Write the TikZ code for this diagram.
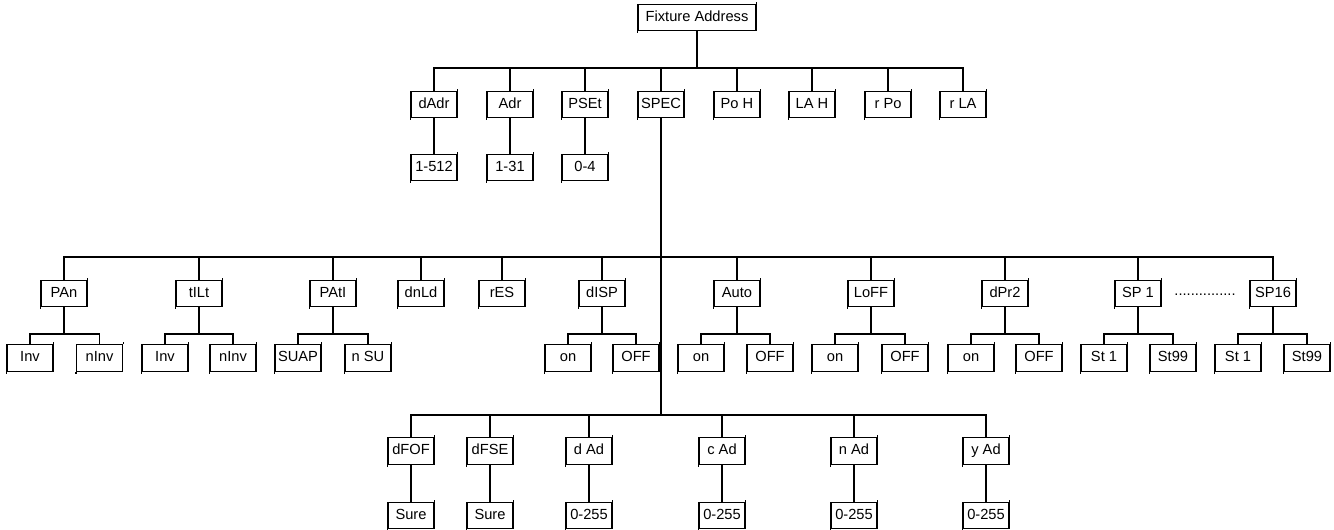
\documentclass[tikz,border=0pt]{standalone}
\usepackage{fontspec}
\setmainfont{Liberation Sans}
\begin{document}
\begin{tikzpicture}[x=0.75pt,y=-0.75pt,line width=0.8pt,
  bx/.style={draw,minimum width=34.5pt,minimum height=20pt,inner sep=1pt,
    text height=8pt,text depth=2.2pt,
    font=\fontsize{11}{13}\selectfont},
  lbl/.style={inner sep=0pt,font=\fontsize{11}{13}\selectfont}]
\useasboundingbox (0,0) rectangle (1334,530);
% root
\node[bx,minimum width=88.5pt] (fa) at (697,17.5) {Fixture Address};
% level 1
\node[bx] (dadr) at (434,104.5) {dAdr};
\node[bx] (adr)  at (510,104.5) {Adr};
\node[bx] (pset) at (585,104.5) {PSEt};
\node[bx] (spec) at (661,104.5) {SPEC};
\node[bx] (poh)  at (737,104.5) {Po H};
\node[bx] (lah)  at (812,104.5) {LA H};
\node[bx] (rpo)  at (888,104.5) {r Po};
\node[bx] (rla)  at (963,104.5) {r LA};
% level 1 values
\node[bx] (dadrv) at (434,167.5) {1-512};
\node[bx] (adrv)  at (510,167.5) {1-31};
\node[bx] (psetv) at (585,167.5) {0-4};
% level 2
\node[bx] (pan)  at (64,293.5)   {PAn};
\node[bx] (tilt) at (199,293.5)  {tILt};
\node[bx] (pati) at (333,293.5)  {PAtI};
\node[bx] (dnld) at (421,293.5)  {dnLd};
\node[bx] (res)  at (502,293.5)  {rES};
\node[bx] (disp) at (602,293.5)  {dISP};
\node[bx] (auto) at (737,293.5)  {Auto};
\node[bx] (loff) at (871,293.5)  {LoFF};
\node[bx] (dpr)  at (1005,293.5) {dPr2};
\node[bx] (spa)  at (1138,293.5) {SP 1};
\node[bx] (spb)  at (1273,293.5) {SP16};
\node[lbl] (dots) at (1205,295) {...............};
% level 2 children
\node[bx] (pana)  at (30,358)   {Inv};
\node[bx] (panb)  at (99.5,358) {nInv};
\node[bx] (tilta) at (165,358)  {Inv};
\node[bx] (tiltb) at (233,358)  {nInv};
\node[bx] (patia) at (298,358)  {SUAP};
\node[bx] (patib) at (368,358)  {n SU};
\node[bx] (dispa) at (568,358)  {on};
\node[bx] (dispb) at (636,358)  {OFF};
\node[bx] (autoa) at (701,358)  {on};
\node[bx] (autob) at (770,358)  {OFF};
\node[bx] (loffa) at (835,358)  {on};
\node[bx] (loffb) at (905,358)  {OFF};
\node[bx] (dpra)  at (971,358)  {on};
\node[bx] (dprb)  at (1039,358) {OFF};
\node[bx] (spaa)  at (1104,358) {St 1};
\node[bx] (spab)  at (1173,358) {St99};
\node[bx] (spba)  at (1238,358) {St 1};
\node[bx] (spbb)  at (1307,358) {St99};
% level 3
\node[bx] (dfof) at (411,451) {dFOF};
\node[bx] (dfse) at (490,451) {dFSE};
\node[bx] (dad)  at (589,451) {d Ad};
\node[bx] (cad)  at (722,451) {c Ad};
\node[bx] (nad)  at (854,451) {n Ad};
\node[bx] (yad)  at (986,451) {y Ad};
\node[bx] (dfofv) at (411,515.5) {Sure};
\node[bx] (dfsev) at (490,515.5) {Sure};
\node[bx] (dadv)  at (589,515.5) {0-255};
\node[bx] (cadv)  at (722,515.5) {0-255};
\node[bx] (nadv)  at (854,515.5) {0-255};
\node[bx] (yadv)  at (986,515.5) {0-255};
% bus levels
\coordinate (b0) at (0,68);
\coordinate (b1) at (0,257);
\coordinate (b2) at (0,334);
\coordinate (b3) at (0,415);
% connectors
\foreach \c in {dadr,adr,pset,spec,poh,lah,rpo,rla}
  \draw (\c.north) -- (\c.north |- b0) -| (fa.south);
\foreach \p/\c in {dadr/dadrv,adr/adrv,pset/psetv,dfof/dfofv,dfse/dfsev,dad/dadv,cad/cadv,nad/nadv,yad/yadv}
  \draw (\p.south) -- (\c.north);
\foreach \c in {pan,tilt,pati,dnld,res,disp,auto,loff,dpr,spa,spb}
  \draw (\c.north) -- (\c.north |- b1) -| (spec.south);
\foreach \c in {dfof,dfse,dad,cad,nad,yad}
  \draw (\c.north) -- (\c.north |- b3) -| (spec.south);
\foreach \p/\a/\b in {pan/pana/panb,tilt/tilta/tiltb,pati/patia/patib,disp/dispa/dispb,auto/autoa/autob,loff/loffa/loffb,dpr/dpra/dprb,spa/spaa/spab,spb/spba/spbb}{
  \draw (\a.north) -- (\a.north |- b2) -| (\p.south);
  \draw (\b.north) -- (\b.north |- b2) -| (\p.south);
}
% small border overhangs as in the reference
\foreach \n in {fa,dadr,adr,pset,spec,poh,lah,rpo,rla,dadrv,adrv,psetv,pan,tilt,pati,dnld,res,disp,auto,loff,dpr,spa,spb,pana,panb,tilta,tiltb,patia,patib,dispa,dispb,autoa,autob,loffa,loffb,dpra,dprb,spaa,spab,spba,spbb,dfof,dfse,dad,cad,nad,yad,dfofv,dfsev,dadv,cadv,nadv,yadv}
  \draw (\n.north east) -- ([yshift=1.5pt]\n.north east)
        (\n.south west) -- ([yshift=-1.5pt]\n.south west);
\end{tikzpicture}
\end{document}
